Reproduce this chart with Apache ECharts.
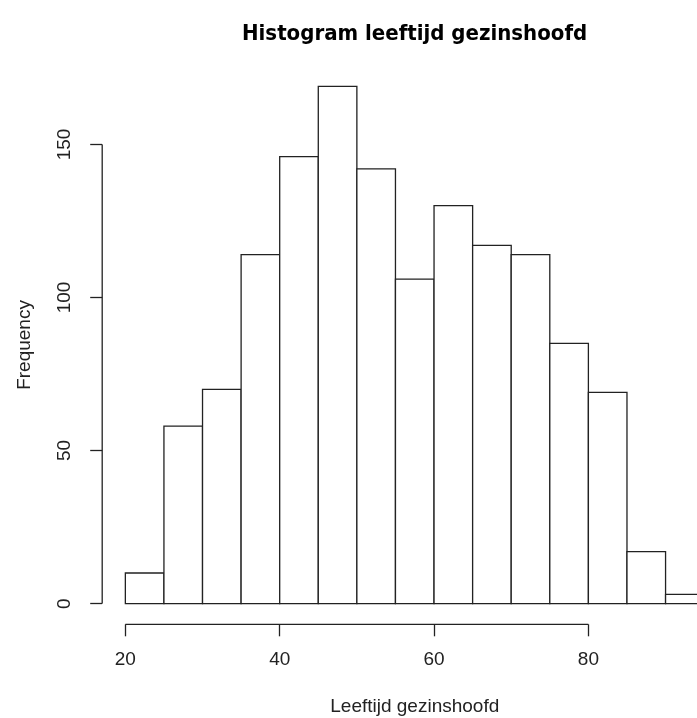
<!DOCTYPE html>
<html>
<head>
<meta charset="utf-8">
<script src="https://cdn.jsdelivr.net/npm/echarts@6/dist/echarts.min.js"></script>
<style>
html,body{margin:0;padding:0;background:#fff;}
#chart{width:697px;height:718px;}
</style>
</head>
<body>
<div id="chart"></div>
<script>
// Data
const binStarts = [20, 25, 30, 35, 40, 45, 50, 55, 60, 65, 70, 75, 80, 85, 90];
const binWidth = 5;
const counts = [10, 58, 70, 114, 146, 169, 142, 106, 130, 117, 114, 85, 69, 17, 3];
const xTicks = [20, 40, 60, 80];
const yTicks = [0, 50, 100, 150];
const titleText = 'Histogram leeftijd gezinshoofd';
const xLabel = 'Leeftijd gezinshoofd';
const yLabel = 'Frequency';

// R-style axis limits (4% extension)
const xMin = binStarts[0], xMax = binStarts[binStarts.length - 1] + binWidth;
const yMaxData = Math.max(...counts);
const xPad = (xMax - xMin) * 0.04, yPad = yMaxData * 0.04;
const xLo = xMin - xPad, xHi = xMax + xPad;
const yLo = -yPad, yHi = yMaxData + yPad;

const FONT = '"Liberation Sans", Arial, sans-serif';
const TFONT = '"DejaVu Sans Condensed", "Liberation Sans", Arial, sans-serif';
const chart = echarts.init(document.getElementById('chart'), null, {renderer: 'canvas'});

const histData = binStarts.map((s, i) => [s, s + binWidth, counts[i]]);

chart.setOption({
  animation: false,
  backgroundColor: '#ffffff',
  title: {
    text: titleText,
    left: 409.6,
    top: 18,
    textAlign: 'center',
    textStyle: {fontFamily: TFONT, fontWeight: 'bold', fontSize: 22, color: '#000'}
  },
  grid: {left: 102.2, top: 65.6, width: 625.1, height: 558.7, containLabel: false, outerBoundsMode: 'none'},
  xAxis: {
    type: 'value', min: xLo, max: xHi,
    axisLine: {show: false, onZero: false},
    splitLine: {show: false},
    axisTick: {show: true, customValues: xTicks, length: 12, lineStyle: {color: '#222', width: 1.3}},
    axisLabel: {customValues: xTicks, margin: 26, fontFamily: FONT, fontSize: 19, color: '#222'},
    name: xLabel, nameLocation: 'middle', nameGap: 73,
    nameTextStyle: {fontFamily: FONT, fontSize: 19, color: '#222'}
  },
  yAxis: {
    type: 'value', min: yLo, max: yHi,
    axisLine: {show: false, onZero: false},
    splitLine: {show: false},
    axisTick: {show: true, customValues: yTicks, length: 12, lineStyle: {color: '#222', width: 1.3}},
    axisLabel: {customValues: yTicks, rotate: 90, margin: 28, fontFamily: FONT, fontSize: 19, color: '#222', align: 'center', verticalAlign: 'bottom'},
    name: yLabel, nameLocation: 'middle', nameGap: 68,
    nameTextStyle: {fontFamily: FONT, fontSize: 19, color: '#222'}
  },
  series: [
    {
      type: 'custom',
      data: histData,
      renderItem: function (params, api) {
        const p0 = api.coord([api.value(0), 0]);
        const p1 = api.coord([api.value(1), api.value(2)]);
        return {
          type: 'rect',
          shape: {x: p0[0], y: p1[1], width: p1[0] - p0[0], height: p0[1] - p1[1]},
          style: {fill: '#ffffff', stroke: '#222', lineWidth: 1.3}
        };
      },
      encode: {x: [0, 1], y: 2},
      clip: false,
      silent: true
    },
    {
      type: 'line', silent: true, clip: false, symbol: 'none',
      data: [[xTicks[0], yLo], [xTicks[xTicks.length - 1], yLo]],
      lineStyle: {color: '#222', width: 1.3}
    },
    {
      type: 'line', silent: true, clip: false, symbol: 'none',
      data: [[xLo, yTicks[0]], [xLo, yTicks[yTicks.length - 1]]],
      lineStyle: {color: '#222', width: 1.3}
    }
  ]
});
</script>
</body>
</html>
